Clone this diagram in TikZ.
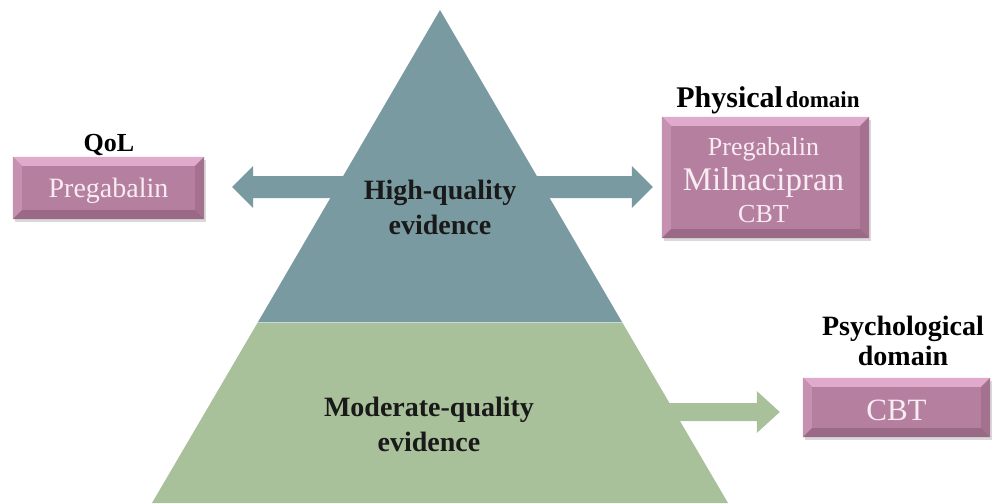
\documentclass[tikz,border=0pt]{standalone}
\usepackage{fontspec}
\setmainfont{Liberation Serif}
\usepackage{xcolor}
\usepackage{tikz}
\usetikzlibrary{calc}
\usetikzlibrary{positioning}
\usetikzlibrary{shadows}

\definecolor{hqblue}{HTML}{7A9AA1}
\definecolor{mqgreen}{HTML}{A9C19B}
\definecolor{boxface}{HTML}{B5809F}
\definecolor{boxtop}{HTML}{DFAACB}
\definecolor{boxleft}{HTML}{C690B0}
\definecolor{boxright}{HTML}{A4718F}
\definecolor{boxbottom}{HTML}{9A6985}
\definecolor{boxtext}{HTML}{F8ECF3}

\newcommand{\boxbevel}[1]{%
 \fill [boxtop] (#1.north west) -- (#1.north east) -- ($(#1.north east)+(-9,9)$) -- ($(#1.north west)+(9,9)$) -- cycle;
 \fill [boxleft] (#1.north west) -- ($(#1.north west)+(9,9)$) -- ($(#1.south west)+(9,-9)$) -- (#1.south west) -- cycle;
 \fill [boxright] (#1.north east) -- (#1.south east) -- ($(#1.south east)+(-9,-9)$) -- ($(#1.north east)+(-9,9)$) -- cycle;
 \fill [boxbottom] (#1.south west) -- (#1.south east) -- ($(#1.south east)+(-9,-9)$) -- ($(#1.south west)+(9,-9)$) -- cycle;
}

\begin{document}
\begin{tikzpicture}[x=1pt, y=-1pt,
 dombox/.style={rectangle, fill=boxface, inner sep=0pt,
  drop shadow={shadow xshift=2pt, shadow yshift=-3pt, fill=black, opacity=.15}},
 boxtxt/.style={text=boxtext, inner sep=0pt, anchor=base},
 heading/.style={text=black, inner sep=0pt},
 pyrtxt/.style={font=\fontsize{28}{35}\selectfont\bfseries, align=center, text=black!90, inner sep=0pt}]
 \useasboundingbox (0,0) rectangle (992,503);

 \coordinate (apex) at (440,10);
 \coordinate (ml) at (258,322);
 \coordinate (mr) at (622,322);
 \coordinate (bl) at (152,503);
 \coordinate (br) at (728,503);

 \node [dombox, minimum width=191, minimum height=62] (qol) at (108.5,188) {};
 \node [dombox, minimum width=207, minimum height=121] (phys) at (765.5,177.5) {};
 \node [dombox, minimum width=187, minimum height=59] (psy) at (896.5,407.5) {};
 \boxbevel{qol}
 \boxbevel{phys}
 \boxbevel{psy}

 \coordinate (lt) at ($(qol.east)+(28,-1)$);
 \coordinate (rt) at ($(lt -| phys.west)+(-9,0)$);
 \fill [hqblue] (lt) -- ($(lt)+(21,-21)$) -- ($(lt)+(21,-11)$) -- ($(rt)+(-21,-11)$) -- ($(rt)+(-21,-21)$)
  -- (rt) -- ($(rt)+(-21,21)$) -- ($(rt)+(-21,11)$) -- ($(lt)+(21,11)$) -- ($(lt)+(21,21)$) -- cycle;

 \coordinate (gs) at (600,412);
 \coordinate (gt) at ($(gs -| psy.west)+(-23,0)$);
 \fill [mqgreen] ($(gs)+(0,-9)$) -- ($(gt)+(-23,-9)$) -- ($(gt)+(-23,-21)$) -- (gt)
  -- ($(gt)+(-23,21)$) -- ($(gt)+(-23,9)$) -- ($(gs)+(0,9)$) -- cycle;

 \fill [hqblue] (apex) -- (mr) -- (ml) -- cycle;
 \fill [mqgreen] (ml) -- (mr) -- (br) -- (bl) -- cycle;
 \draw [white!60!hqblue, line width=1] (ml) -- (mr);

 \node [pyrtxt] (hq) at (440,207) {High-quality\\evidence};
 \node [pyrtxt] (mq) at (429,424) {Moderate-quality\\evidence};

 \node [heading, anchor=base, font=\fontsize{26}{30}\selectfont\bfseries] (qolhead) at (109,151) {QoL};
 \node [heading, anchor=base, font=\bfseries] (physhead) at (768,107)
  {{\fontsize{30}{34}\selectfont Physical} {\fontsize{23}{26}\selectfont domain}};
 \node [heading, align=center, font=\fontsize{28}{30}\selectfont\bfseries] (psyhead) at (903,341) {Psychological\\domain};

 \node [boxtxt, font=\fontsize{28}{32}\selectfont] (qoltx) at ($(qol.center)+(0,9)$) {Pregabalin};
 \node [boxtxt, font=\fontsize{26}{30}\selectfont] (phystx1) at ($(phys.center)+(-2,-22)$) {Pregabalin};
 \node [boxtxt, font=\fontsize{33}{36}\selectfont] (phystx2) at ($(phys.center)+(-2,13)$) {Milnacipran};
 \node [boxtxt, font=\fontsize{26}{30}\selectfont] (phystx3) at ($(phys.center)+(-2,45)$) {CBT};
 \node [boxtxt, font=\fontsize{31}{34}\selectfont] (psytx) at ($(psy.center)+(0,12.5)$) {CBT};
\end{tikzpicture}
\end{document}
